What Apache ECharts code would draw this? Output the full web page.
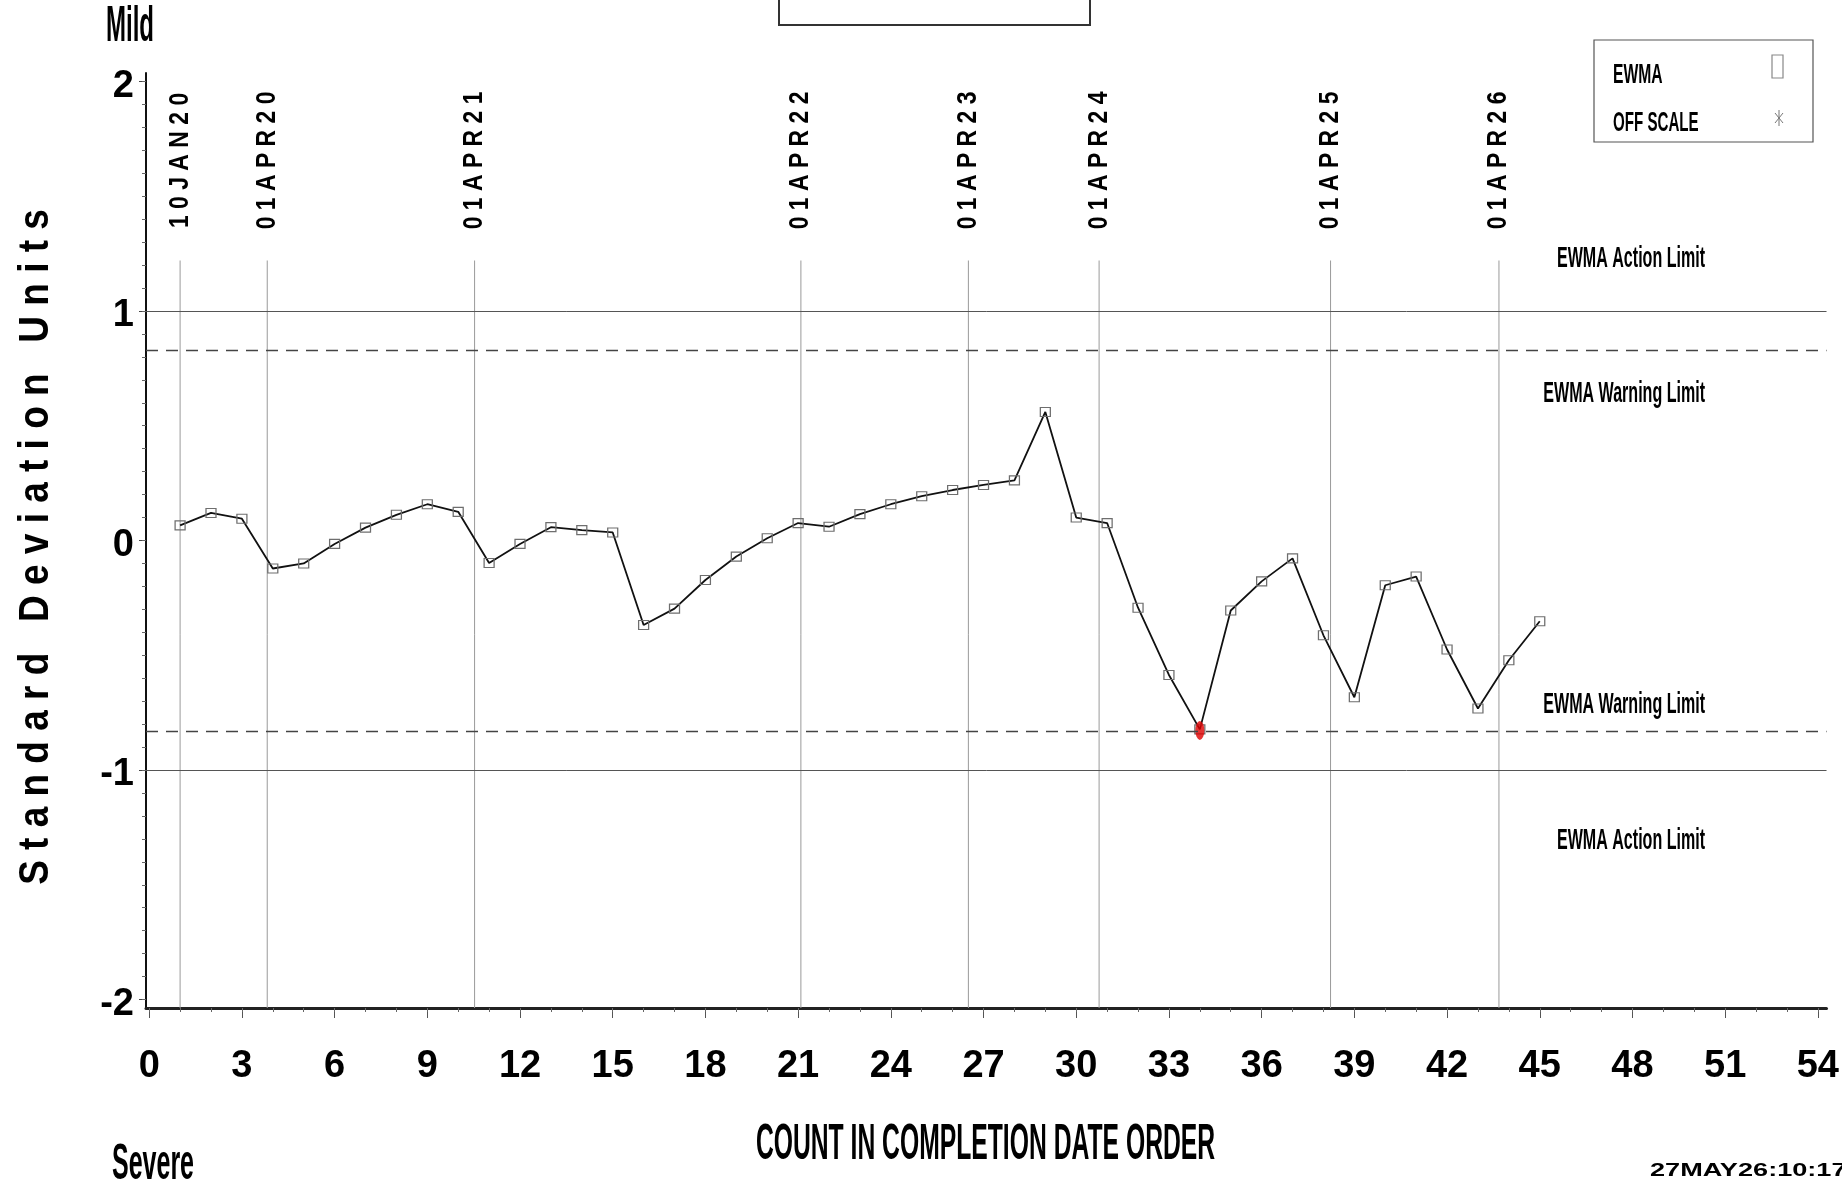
<!DOCTYPE html>
<html>
<head>
<meta charset="utf-8">
<script src="https://cdn.jsdelivr.net/npm/echarts@6/dist/echarts.min.js"></script>
<style>
html,body{margin:0;padding:0;background:#ffffff;}
#chart{width:1842px;height:1187px;}
</style>
</head>
<body>
<div id="chart"></div>
<script>
// ---- data ----
const counts = [1,2,3,4,5,6,7,8,9,10,11,12,13,14,15,16,17,18,19,20,21,22,23,24,25,26,27,28,29,30,31,32,33,34,35,36,37,38,39,40,41,42,43,44,45];
const ewma = [0.066,0.120,0.095,-0.122,-0.100,-0.015,0.056,0.112,0.158,0.125,
              -0.098,-0.015,0.058,0.045,0.035,-0.368,-0.297,-0.172,-0.070,0.010,
              0.076,0.060,0.115,0.158,0.193,0.220,0.242,0.262,0.560,0.100,
              0.076,-0.293,-0.586,-0.823,-0.305,-0.178,-0.078,-0.413,-0.683,-0.195,
              -0.157,-0.475,-0.732,-0.522,-0.352];
const flaggedCounts = [34];
const limitValues = [1, 0.826, -0.826, -1];
const limitKinds = ['action', 'warning', 'warning', 'action'];
const limitLabels = ['EWMA Action Limit', 'EWMA Warning Limit', 'EWMA Warning Limit', 'EWMA Action Limit'];
const refLinePositions = [1, 3.82, 10.53, 21.09, 26.51, 30.74, 38.23, 43.68];
const refLineLabels = ['10JAN20', '01APR20', '01APR21', '01APR22', '01APR23', '01APR24', '01APR25', '01APR26'];
const xTickLabels = [0,3,6,9,12,15,18,21,24,27,30,33,36,39,42,45,48,51,54];
const yTickLabels = [-2,-1,0,1,2];
const legendItems = ['EWMA', 'OFF SCALE'];

// ---- layout constants ----
const X_MIN = -0.1035, X_MAX = 54.28;
const Y_MIN = -2.037, Y_MAX = 2.037;
const REF_TOP = 1.22, REF_LABEL_MID = 1.656;
const FONT = "'Liberation Sans', Arial, Helvetica, sans-serif";
const NARROW = "'Liberation Sans Narrow', 'Arial Narrow', 'Liberation Sans', Arial, sans-serif";

const xMinor = [];
for (let i = 0; i <= 54; i++) xMinor.push(i);
const yMinor = [];
for (let i = -20; i <= 20; i++) yMinor.push(i / 10);

function txt(text, x, y, opts) {
  return Object.assign({
    type: 'text', x: x, y: y, silent: true,
    style: {
      text: text, fill: '#000',
      font: (opts.weight || 'bold') + ' ' + opts.size + 'px ' + FONT,
      align: opts.align || 'center', textAlign: opts.align || 'center',
      verticalAlign: 'middle', textVerticalAlign: 'middle'
    }
  }, { scaleX: opts.scaleX || 1, rotation: opts.rotation || 0 });
}

const chart = echarts.init(document.getElementById('chart'), null, { renderer: 'canvas' });

const option = {
  animation: false,
  backgroundColor: '#ffffff',
  grid: { left: 146, right: 15, top: 73, bottom: 179, containLabel: false },
  xAxis: [
    {
      type: 'value', min: X_MIN, max: X_MAX, position: 'bottom',
      axisLine: { show: true, onZero: false, lineStyle: { color: '#222', width: 3 } },
      axisTick: { show: true, customValues: xTickLabels, length: 10, lineStyle: { color: '#555', width: 1 } },
      axisLabel: { show: true, customValues: xTickLabels, margin: 40, fontSize: 38, fontWeight: 'bold', fontFamily: NARROW, color: '#000' },
      splitLine: { show: false }
    },
    {
      type: 'value', min: X_MIN, max: X_MAX, position: 'bottom',
      axisLine: { show: false, onZero: false },
      axisTick: { show: true, customValues: xMinor, length: 4, lineStyle: { color: '#666', width: 1 } },
      axisLabel: { show: false },
      splitLine: { show: false }
    }
  ],
  yAxis: [
    {
      type: 'value', min: Y_MIN, max: Y_MAX, position: 'left',
      axisLine: { show: true, onZero: false, lineStyle: { color: '#111', width: 2 } },
      axisTick: { show: true, customValues: yTickLabels, length: 7, lineStyle: { color: '#444', width: 1 } },
      axisLabel: { show: true, customValues: yTickLabels, margin: 12, fontSize: 38, fontWeight: 'bold', fontFamily: NARROW, color: '#000',
                   verticalAlign: 'top', lineHeight: 10,
                   formatter: function (v) { return String(v); } },
      splitLine: { show: false }
    },
    {
      type: 'value', min: Y_MIN, max: Y_MAX, position: 'left',
      axisLine: { show: false, onZero: false },
      axisTick: { show: true, customValues: yMinor, length: 4, lineStyle: { color: '#666', width: 1 } },
      axisLabel: { show: false },
      splitLine: { show: false }
    }
  ],
  series: [
    {
      type: 'custom', name: 'Date reference', silent: true, z: 1,
      xAxisIndex: 0, yAxisIndex: 0, clip: false,
      data: refLinePositions.map(function (p, i) { return [p, i]; }),
      encode: { x: 0 },
      renderItem: function (params, api) {
        const x = api.value(0);
        const i = api.value(1);
        const b = api.coord([x, Y_MIN]);
        const t = api.coord([x, REF_TOP]);
        const m = api.coord([x, REF_LABEL_MID]);
        return {
          type: 'group',
          children: [
            { type: 'line', shape: { x1: b[0], y1: b[1], x2: t[0], y2: t[1] }, style: { stroke: '#9a9a9a', lineWidth: 1 } },
            { type: 'text', x: m[0], y: m[1], rotation: Math.PI / 2, scaleX: 0.85,
              style: { text: refLineLabels[i].split('').join(' '), fill: '#000',
                       font: 'bold 27px ' + FONT, align: 'center', textAlign: 'center',
                       verticalAlign: 'middle', textVerticalAlign: 'middle' } }
          ]
        };
      }
    },
    {
      type: 'line', name: 'EWMA', xAxisIndex: 0, yAxisIndex: 0, z: 3,
      data: counts.map(function (c, i) { return [c, ewma[i]]; }),
      symbol: 'rect', symbolSize: [10, 9], showSymbol: true, showAllSymbol: true,
      itemStyle: { color: 'rgba(0,0,0,0)', borderColor: '#6e6e6e', borderWidth: 1.2 },
      lineStyle: { color: '#111', width: 1.8 },
      emphasis: { disabled: true },
      markLine: {
        silent: true, symbol: 'none', label: { show: false },
        data: limitValues.map(function (v, i) {
          return {
            name: limitLabels[i], yAxis: v,
            lineStyle: limitKinds[i] === 'action'
              ? { type: 'solid', color: '#555', width: 1 }
              : { type: [12, 8], color: '#444', width: 1.3 }
          };
        })
      }
    },
    {
      type: 'scatter', name: 'Flagged', xAxisIndex: 0, yAxisIndex: 0, z: 4,
      data: flaggedCounts.map(function (c) { return [c, ewma[counts.indexOf(c)]]; }),
      symbol: 'circle', symbolSize: [9, 19], symbolOffset: [0, 1],
      itemStyle: { color: '#e00000' },
      emphasis: { disabled: true }
    }
  ],
  graphic: {
    elements: [
      // title box (cut at top edge)
      { type: 'rect', shape: { x: 779, y: -6, width: 311, height: 31 }, style: { fill: 'none', stroke: '#333', lineWidth: 2 }, silent: true },
      txt('Mild', 130, 27, { size: 50, scaleX: 0.48 }),
      txt('Severe', 153, 1165, { size: 50, scaleX: 0.5 }),
      txt('COUNT IN COMPLETION DATE ORDER', 985.5, 1145, { size: 50, scaleX: 0.494 }),
      txt('S t a n d a r d   D e v i a t i o n   U n i t s', 36, 547, { size: 42, scaleX: 0.88, rotation: Math.PI / 2 }),
      txt(limitLabels[0], 1705, 259, { size: 30, scaleX: 0.535, align: 'right' }),
      txt(limitLabels[1], 1705, 394, { size: 30, scaleX: 0.535, align: 'right' }),
      txt(limitLabels[2], 1705, 705, { size: 30, scaleX: 0.535, align: 'right' }),
      txt(limitLabels[3], 1705, 841, { size: 30, scaleX: 0.535, align: 'right' }),
      txt('27MAY26:10:17', 1650, 1171, { size: 17.5, scaleX: 1.55, align: 'left' }),
      // legend
      { type: 'rect', shape: { x: 1594, y: 40, width: 219, height: 102 }, style: { fill: '#fff', stroke: '#555', lineWidth: 1.2 }, silent: true },
      txt(legendItems[0], 1613, 75, { size: 28, scaleX: 0.56, align: 'left' }),
      txt(legendItems[1], 1613, 123, { size: 28, scaleX: 0.54, align: 'left' }),
      { type: 'rect', shape: { x: 1772, y: 55, width: 11, height: 23 }, style: { fill: 'none', stroke: '#888', lineWidth: 1.2 }, silent: true },
      { type: 'line', shape: { x1: 1779, y1: 110, x2: 1779, y2: 126 }, style: { stroke: '#777', lineWidth: 1 }, silent: true },
      { type: 'line', shape: { x1: 1775, y1: 113, x2: 1783, y2: 123 }, style: { stroke: '#777', lineWidth: 1 }, silent: true },
      { type: 'line', shape: { x1: 1775, y1: 123, x2: 1783, y2: 113 }, style: { stroke: '#777', lineWidth: 1 }, silent: true }
    ]
  }
};

chart.setOption(option);
</script>
</body>
</html>
